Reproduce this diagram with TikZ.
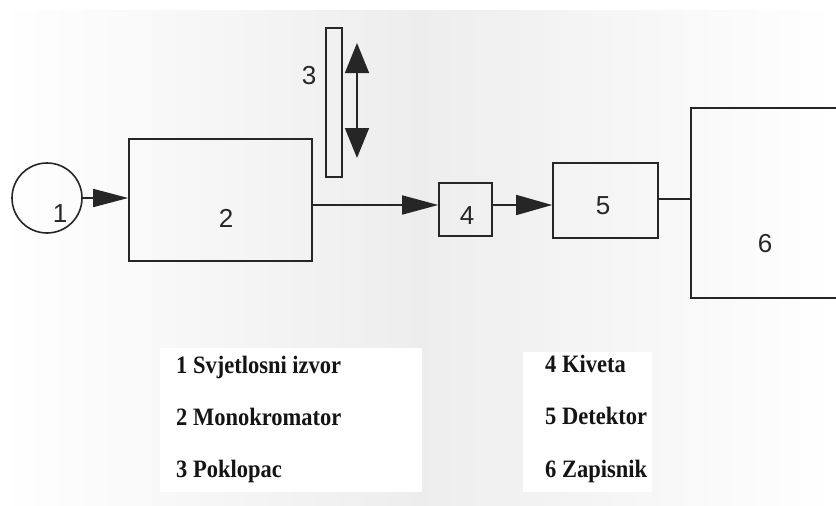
\documentclass[tikz,border=0pt]{standalone}
\usepackage{fontspec}
\setmainfont{Liberation Serif}
\newfontfamily\diagfont{Liberation Sans}
\usetikzlibrary{arrows.meta}
\newcommand{\legtxt}[1]{\scalebox{0.9}[1]{#1}}
\begin{document}
\begin{tikzpicture}[x=1pt,y=-1pt,
  blk/.style={draw=black!85,line width=1.6pt,inner sep=0pt},
  num/.style={font=\diagfont\fontsize{26}{26}\selectfont,text=black!85,inner sep=0pt},
  con/.style={draw=black!85,line width=1.6pt},
  leg/.style={font=\fontsize{25}{25}\selectfont\bfseries,anchor=base west,inner sep=0pt,text=black!92}]
\useasboundingbox (0,0) rectangle (836,506);
\clip (0,0) rectangle (836,506);
% background
\fill[white] (0,0) rectangle (836,506);
\shade[left color=white,right color=white,middle color=black!7] (0,10) rectangle (836,506);
\fill[white] (160,348) rectangle (422,492);
\fill[white] (523,352) rectangle (652,492);
% blocks
\node[blk,circle,minimum size=70pt] (c1) at (47,198) {};
\node[num] (l1) at (60,214) {1};
\node[blk,minimum width=183pt,minimum height=122pt] (b2) at (220.5,200) {};
\node[num] (l2) at (226,218) {2};
\node[blk,minimum width=16pt,minimum height=149pt] (b3) at (334,102.5) {};
\node[num] (l3) at (309,76) {3};
\node[blk,minimum width=53pt,minimum height=53pt] (b4) at (465.5,209.5) {};
\node[num] (l4) at (467,216) {4};
\node[blk,minimum width=105pt,minimum height=75pt] (b5) at (605.5,200.5) {};
\node[num] (l5) at (603,206) {5};
\node[blk,minimum width=180pt,minimum height=190pt] (b6) at (781,203) {};
\node[num] (l6) at (765,244) {6};
% connectors
\coordinate (u) at (357,43);
\coordinate (d) at (357,158);
\draw[con,{Triangle[length=30pt,width=24pt]}-{Triangle[length=30pt,width=24pt]}] (u) -- (d);
\draw[con,-{Triangle[length=35pt,width=18pt]}] (c1.east) -- (b2.west |- c1.east);
\draw[con,-{Triangle[length=36pt,width=19pt]}] (b2.east |- 0,205) -- (b4.west |- 0,205);
\draw[con,-{Triangle[length=36pt,width=20pt]}] (b4.east |- 0,205) -- (b5.west |- 0,205);
\draw[con] (b5.east |- 0,199) -- (b6.west |- 0,199);
% legend
\node[leg] (t1) at (176,373) {\legtxt{1 Svjetlosni izvor}};
\node[leg] (t2) at (176,425) {\legtxt{2 Monokromator}};
\node[leg] (t3) at (176,477) {\legtxt{3 Poklopac}};
\node[leg] (t4) at (545,372) {\legtxt{4 Kiveta}};
\node[leg] (t5) at (545,424) {\legtxt{5 Detektor}};
\node[leg] (t6) at (545,477) {\legtxt{6 Zapisnik}};
\end{tikzpicture}
\end{document}
